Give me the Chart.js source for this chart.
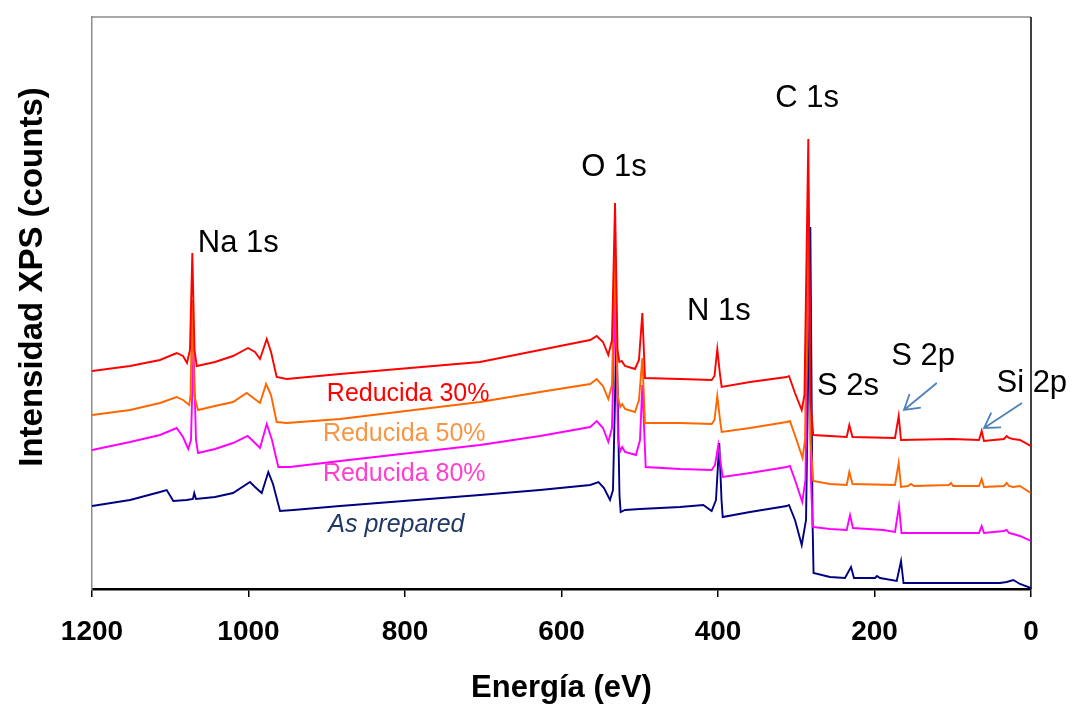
<!DOCTYPE html>
<html lang="es">
<head>
<meta charset="utf-8">
<title>Espectros XPS</title>
<script src="https://cdn.jsdelivr.net/npm/chart.js@4.4.1/dist/chart.umd.min.js"></script>
<style>
  html, body { margin: 0; padding: 0; background: #fff; }
  #contenedor { width: 1073px; height: 707px; position: relative; }
</style>
</head>
<body>
<div id="contenedor"><canvas id="graficoXPS"></canvas></div>
<script>
// Espectros XPS de survey: [energía de enlace (eV), intensidad (u.a.)]
const reducida30 = [
  [1200, 218], [1151.4, 223], [1113.1, 229], [1091.8, 236], [1083.7, 233], [1078.6, 226],
  [1074.8, 239], [1071.8, 336], [1069.0, 239], [1066.2, 223], [1042.8, 227], [1019.8, 233],
  [1000.6, 241], [991.7, 237], [985.3, 230], [976.7, 250], [971.2, 237], [964.0, 212],
  [951.2, 210], [883.1, 215], [793.6, 221], [704.2, 227], [627.5, 239], [576.4, 247],
  [563.3, 249], [555.0, 253], [547.0, 247], [540.2, 234], [535.5, 249], [531.6, 386],
  [528.4, 239], [526.1, 227], [523.1, 228], [518.8, 223], [506.1, 220], [501.0, 229],
  [496.7, 276], [493.3, 211], [448.6, 210], [408.1, 209], [404.5, 213], [400.9, 240],
  [397.4, 214], [395.3, 202], [359.1, 207], [312.2, 212], [309.3, 213], [301.6, 196],
  [293.0, 179], [289.5, 194], [284.6, 450], [281.8, 189], [278.3, 154], [256.9, 153],
  [235.5, 152], [232.2, 164], [228.1, 152], [173.8, 151], [169.1, 173], [166.1, 149],
  [101.3, 150], [66.5, 149], [63.0, 158], [60.1, 148], [34.5, 150], [31.1, 153],
  [28.1, 151], [23.0, 150], [14.1, 149], [0.4, 143]
];

const reducida50 = [
  [1200, 174], [1151.4, 179], [1113.1, 186], [1091.8, 192], [1083.7, 189], [1075.7, 184],
  [1074.1, 194], [1071.8, 289], [1069.4, 194], [1064.5, 179], [1042.8, 183], [1019.8, 187],
  [1002.3, 196], [985.3, 186], [977.5, 205], [971.2, 194], [964.0, 167], [951.2, 166],
  [883.1, 170], [704.2, 187], [627.5, 197], [563.3, 205], [555.0, 210], [547.0, 203],
  [540.2, 190], [535.5, 204], [531.6, 339], [528.4, 194], [524.9, 182], [522.4, 185],
  [518.8, 180], [506.1, 177], [501.0, 189], [496.7, 231], [493.3, 166], [448.6, 166],
  [408.1, 165], [404.5, 169], [400.9, 193], [397.4, 169], [395.3, 157], [359.1, 161],
  [312.2, 167], [308.1, 168], [299.6, 149], [291.9, 131], [288.8, 149], [284.6, 400],
  [281.8, 149], [278.3, 108], [256.9, 105], [235.5, 104], [232.2, 117], [228.1, 105],
  [173.8, 104], [169.1, 126], [166.1, 102], [157.2, 103], [153.4, 105], [149.5, 103],
  [104.8, 104], [102.2, 106], [99.7, 103], [66.5, 103], [63.0, 110], [60.1, 102],
  [34.5, 103], [31.1, 106], [28.1, 103], [23.0, 102], [14.1, 103], [0.4, 96]
];

const reducida80 = [
  [1200, 139], [1151.4, 147], [1113.1, 154], [1091.8, 161], [1083.7, 152], [1077.0, 140],
  [1073.5, 149], [1070.3, 244], [1067.1, 149], [1064.5, 136], [1042.8, 140], [1019.8, 146],
  [1001.0, 153], [993.0, 147], [985.3, 141], [976.7, 165], [970.0, 149], [961.9, 122],
  [947.0, 122], [883.1, 128], [704.2, 144], [627.5, 153], [563.3, 162], [555.0, 168],
  [547.0, 161], [540.2, 147], [535.5, 161], [531.0, 309], [527.8, 149], [524.9, 138],
  [522.4, 142], [518.8, 137], [504.8, 134], [499.7, 149], [496.7, 204], [492.4, 122],
  [448.6, 120], [408.1, 119], [403.8, 124], [399.6, 144], [396.2, 124], [394.0, 112],
  [359.1, 116], [312.2, 122], [308.1, 123], [301.6, 109], [292.3, 87], [288.2, 109],
  [284.0, 374], [281.2, 109], [279.0, 62], [256.9, 60], [235.5, 59], [231.3, 74],
  [227.5, 61], [188.8, 59], [173.8, 57], [168.7, 83], [165.5, 56], [66.5, 56],
  [63.0, 63], [60.1, 56], [34.5, 58], [31.1, 59], [28.1, 56], [23.0, 55],
  [14.1, 53], [0.4, 48]
];

const asPrepared = [
  [1200, 83], [1151.4, 89], [1113.1, 97], [1104.5, 99], [1096.1, 88], [1079.0, 89],
  [1071.0, 90], [1069.3, 96], [1067.1, 90], [1042.8, 92], [1019.8, 96], [998.1, 107],
  [991.7, 102], [983.1, 96], [974.7, 117], [968.7, 105], [959.7, 78], [942.7, 79],
  [883.1, 83], [704.2, 94], [627.5, 99], [563.3, 104], [552.7, 107], [545.7, 101],
  [538.0, 89], [534.2, 99], [529.7, 259], [525.9, 94], [524.4, 77], [518.8, 79],
  [499.7, 80], [448.6, 82], [418.8, 84], [408.1, 78], [402.6, 89], [398.4, 146],
  [395.5, 89], [394.0, 72], [359.1, 77], [312.2, 83], [309.3, 84], [301.6, 69],
  [293.0, 44], [287.5, 69], [282.0, 362], [279.2, 69], [277.9, 16], [256.9, 12],
  [237.7, 11], [230.0, 22], [226.2, 11], [199.4, 11], [196.8, 13], [193.0, 11],
  [171.6, 8], [166.1, 28], [162.9, 6], [39.6, 6], [31.1, 7], [22.6, 9],
  [14.1, 5], [0, 1]
];

const ticksEnergia = [1200, 1000, 800, 600, 400, 200, 0];

const nombresSeries = ['Reducida 30%', 'Reducida 50%', 'Reducida 80%', 'As prepared'];
const coloresSeries = ['#ff0000', '#ff6600', '#ff00ff', '#000080'];

// picos identificados: texto, energía y altura donde va el rótulo
const picos = [
  { texto: 'Na 1s', e: 1013, i: 346 },
  { texto: 'O 1s', e: 533, i: 422 },
  { texto: 'C 1s', e: 286, i: 491 },
  { texto: 'N 1s', e: 399, i: 278 },
  { texto: 'S 2s', e: 234, i: 203 },
  { texto: 'S 2p', e: 138, i: 233 },
  { texto: 'Si 2p', e: -1, i: 206 }
];

// rótulos de cada espectro
const rotulosSeries = [
  { texto: 'Reducida 30%', e: 796, i: 195, color: '#ff0000', italica: false },
  { texto: 'Reducida 50%', e: 801, i: 155, color: '#f79646', italica: false },
  { texto: 'Reducida 80%', e: 801, i: 115, color: '#ff3fd0', italica: false },
  { texto: 'As prepared', e: 811, i: 64, color: '#1f3864', italica: true }
];

// flechas hacia S 2p y Si 2p: [desde, hasta]
const flechas = [
  { desde: [120.4, 206], hasta: [162.3, 179] },
  { desde: [11.5, 186], hasta: [60, 161] }
];

const FUENTE = "'Liberation Sans', Arial, Helvetica, sans-serif";

const anotaciones = {
  id: 'anotaciones',
  beforeDatasetsDraw(chart) {
    // marco superior gris y lateral derecho negro
    const { ctx, chartArea: a } = chart;
    ctx.save();
    ctx.strokeStyle = '#8c8c8c';
    ctx.lineWidth = 1.5;
    ctx.beginPath();
    ctx.moveTo(a.left, a.top);
    ctx.lineTo(a.right, a.top);
    ctx.stroke();
    ctx.strokeStyle = '#000';
    ctx.lineWidth = 1.5;
    ctx.beginPath();
    ctx.moveTo(a.right, a.top);
    ctx.lineTo(a.right, a.bottom);
    ctx.stroke();
    ctx.restore();
  },
  afterDatasetsDraw(chart) {
    const { ctx, scales: { x, y } } = chart;
    ctx.save();
    ctx.textAlign = 'center';
    ctx.textBaseline = 'middle';

    ctx.fillStyle = '#000';
    ctx.font = '31px ' + FUENTE;
    picos.forEach(p => {
      ctx.fillText(p.texto, x.getPixelForValue(p.e), y.getPixelForValue(p.i));
    });

    rotulosSeries.forEach(r => {
      ctx.fillStyle = r.color;
      ctx.font = (r.italica ? 'italic ' : '') + '25px ' + FUENTE;
      ctx.fillText(r.texto, x.getPixelForValue(r.e), y.getPixelForValue(r.i));
    });

    ctx.strokeStyle = '#4f81bd';
    ctx.lineWidth = 1.8;
    flechas.forEach(f => {
      const x0 = x.getPixelForValue(f.desde[0]), y0 = y.getPixelForValue(f.desde[1]);
      const x1 = x.getPixelForValue(f.hasta[0]), y1 = y.getPixelForValue(f.hasta[1]);
      const ang = Math.atan2(y1 - y0, x1 - x0);
      ctx.beginPath();
      ctx.moveTo(x0, y0);
      ctx.lineTo(x1, y1);
      ctx.moveTo(x1 - 17 * Math.cos(ang - 0.55), y1 - 17 * Math.sin(ang - 0.55));
      ctx.lineTo(x1, y1);
      ctx.lineTo(x1 - 17 * Math.cos(ang + 0.55), y1 - 17 * Math.sin(ang + 0.55));
      ctx.stroke();
    });

    // título del eje vertical
    ctx.fillStyle = '#000';
    ctx.font = 'bold 33px ' + FUENTE;
    ctx.translate(33, y.getPixelForValue(312));
    ctx.rotate(-Math.PI / 2);
    ctx.fillText('Intensidad XPS (counts)', 0, 0);
    ctx.restore();
  }
};

const series = [reducida30, reducida50, reducida80, asPrepared];

new Chart(document.getElementById('graficoXPS'), {
  type: 'line',
  data: {
    datasets: series.map((s, k) => ({
      label: nombresSeries[k],
      data: s.map(([e, i]) => ({ x: e, y: i })),
      borderColor: coloresSeries[k],
      borderWidth: 1.9,
      pointRadius: 0,
      tension: 0
    }))
  },
  options: {
    responsive: true,
    maintainAspectRatio: false,
    animation: false,
    layout: { padding: { top: 17, right: 42, left: 0, bottom: 0 } },
    plugins: { legend: { display: false }, tooltip: { enabled: false } },
    scales: {
      x: {
        type: 'linear',
        reverse: true,
        min: 0,
        max: 1200,
        afterBuildTicks: s => { s.ticks = ticksEnergia.map(v => ({ value: v })); },
        afterFit: s => { s.height = 118; },
        ticks: {
          color: '#000',
          padding: 18,
          maxRotation: 0,
          font: { family: FUENTE, size: 28, weight: 'bold' },
          callback: v => String(v)
        },
        grid: { display: true, drawOnChartArea: false, drawTicks: true, tickLength: 8, color: '#000', lineWidth: 1.5 },
        border: { display: true, color: '#000', width: 2.5 },
        title: {
          display: true,
          text: 'Energía (eV)',
          color: '#000',
          padding: { top: 0, bottom: 0 },
          font: { family: FUENTE, size: 31, weight: 'bold' }
        }
      },
      y: {
        min: 0,
        max: 572,
        afterFit: s => { s.width = 92; },
        ticks: { display: false },
        grid: { display: false },
        border: { display: true, color: '#8c8c8c', width: 1.5 }
      }
    }
  },
  plugins: [anotaciones]
});
</script>
</body>
</html>
